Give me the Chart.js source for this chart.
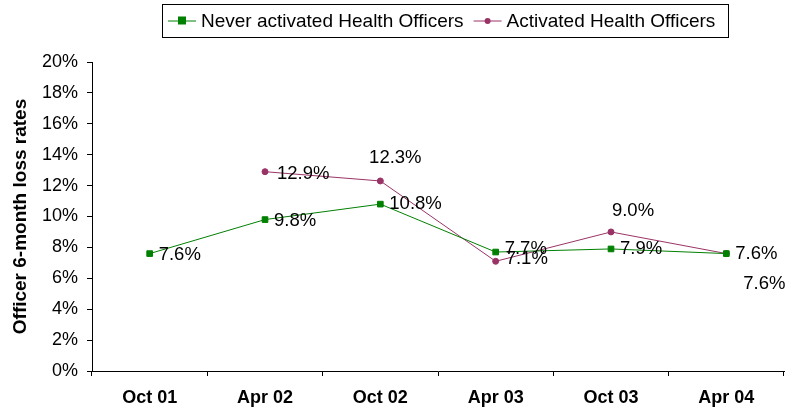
<!DOCTYPE html>
<html>
<head>
<meta charset="utf-8">
<script src="https://cdn.jsdelivr.net/npm/chart.js@4.4.0/dist/chart.umd.min.js"></script>
<style>
  html, body { margin: 0; padding: 0; background: #fff; }
  #wrap { width: 789px; height: 410px; position: relative; }
</style>
</head>
<body>
<div id="wrap"><canvas id="lossChart" width="789" height="410"></canvas></div>
<script>
// Chart data
const categories = ['Oct 01', 'Apr 02', 'Oct 02', 'Apr 03', 'Oct 03', 'Apr 04'];
const neverActivated = [7.6, 9.8, 10.8, 7.7, 7.9, 7.6];
const activated = [null, 12.9, 12.3, 7.1, 9.0, 7.6];
const yTicks = [0, 2, 4, 6, 8, 10, 12, 14, 16, 18, 20];

const GREEN = '#008000';
const PLUM = '#993366';
const FONT = "'Liberation Sans', Arial, sans-serif";

// label offsets (px from the point) for each series
const labelOffsets = [
    [[9, 1], [9, 1], [9, 0], [9, -3], [9, 0], [9, 0]],
    [null, [12, 2], [15, -23], [10, -2], [22, -21], [38, 30]]
];
const labelAlign = [
    ['left', 'left', 'left', 'left', 'left', 'left'],
    [null, 'left', 'center', 'left', 'center', 'center']
];

// draws the value labels next to each point
const valueLabels = {
    id: 'valueLabels',
    afterDatasetsDraw(chart) {
        const ctx = chart.ctx;
        ctx.save();
        ctx.font = '18.5px ' + FONT;
        ctx.fillStyle = '#000';
        ctx.textBaseline = 'middle';
        chart.data.datasets.forEach((ds, di) => {
            const meta = chart.getDatasetMeta(di);
            meta.data.forEach((pt, i) => {
                const v = ds.data[i];
                if (v === null || v === undefined) return;
                const off = labelOffsets[di][i];
                ctx.textAlign = labelAlign[di][i];
                ctx.fillText(v.toFixed(1) + '%', pt.x + off[0], pt.y + off[1]);
            });
        });
        ctx.restore();
    }
};

// boxed legend with line + marker samples
const boxLegend = {
    id: 'boxLegend',
    afterDraw(chart) {
        const ctx = chart.ctx;
        ctx.save();
        ctx.font = '19px ' + FONT;
        ctx.textBaseline = 'middle';
        const left = 162, top = 4, right = 728, bottom = 37;
        ctx.strokeStyle = '#000';
        ctx.lineWidth = 1;
        ctx.strokeRect(left + 0.5, top + 0.5, right - left, bottom - top);
        const cy = (top + bottom) / 2;
        let x = left + 6;
        chart.data.datasets.forEach((ds, di) => {
            ctx.strokeStyle = ds.borderColor;
            ctx.beginPath();
            ctx.moveTo(x, cy + 0.5);
            ctx.lineTo(x + 28, cy + 0.5);
            ctx.stroke();
            ctx.fillStyle = ds.pointBackgroundColor;
            if (ds.pointStyle === 'rect') {
                ctx.fillRect(x + 10, cy - 4, 8, 8);
            } else {
                ctx.beginPath();
                ctx.arc(x + 14, cy + 0.5, 3, 0, Math.PI * 2);
                ctx.fill();
            }
            ctx.fillStyle = '#000';
            ctx.textAlign = 'left';
            ctx.fillText(ds.label, x + 33, cy + 1);
            x += 33 + ctx.measureText(ds.label).width + 10;
        });
        ctx.restore();
    }
};

new Chart(document.getElementById('lossChart'), {
    type: 'line',
    data: {
        labels: categories,
        datasets: [{
            label: 'Never activated Health Officers',
            data: neverActivated,
            borderColor: GREEN,
            backgroundColor: GREEN,
            pointBackgroundColor: GREEN,
            pointBorderColor: GREEN,
            pointStyle: 'rect',
            pointRadius: 4,
            borderWidth: 1,
            tension: 0
        }, {
            label: 'Activated Health Officers',
            data: activated,
            borderColor: PLUM,
            backgroundColor: PLUM,
            pointBackgroundColor: PLUM,
            pointBorderColor: PLUM,
            pointStyle: 'circle',
            pointRadius: 3,
            borderWidth: 1,
            tension: 0
        }]
    },
    options: {
        responsive: false,
        animation: false,
        layout: { padding: { top: 62, right: 1, left: 0, bottom: 0 } },
        plugins: {
            legend: { display: false },
            tooltip: { enabled: false }
        },
        scales: {
            x: {
                type: 'category',
                offset: true,
                grid: { offset: true, drawOnChartArea: false, drawTicks: true, tickLength: 5, color: '#000' },
                border: { color: '#000', width: 1 },
                ticks: { color: '#000', font: { family: FONT, size: 18, weight: 'bold' }, padding: 11 },
                afterFit(scale) { scale.height = 39; }
            },
            y: {
                min: 0,
                max: 20,
                afterBuildTicks(scale) { scale.ticks = yTicks.map(v => ({ value: v })); },
                grid: { drawOnChartArea: false, drawTicks: true, tickLength: 5, color: '#000' },
                border: { color: '#000', width: 1 },
                ticks: { color: '#000', font: { family: FONT, size: 18 }, padding: 9, callback: v => v + '%' },
                title: { display: true, text: 'Officer 6-month loss rates', color: '#000', font: { family: FONT, size: 19, weight: 'bold' }, padding: { top: 9, bottom: 0 } },
                afterFit(scale) { scale.width = 92; }
            }
        }
    },
    plugins: [valueLabels, boxLegend]
});
</script>
</body>
</html>
